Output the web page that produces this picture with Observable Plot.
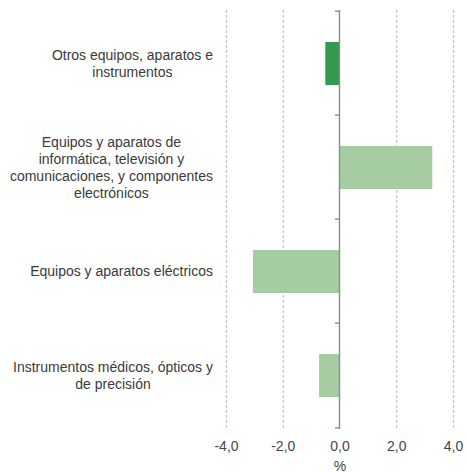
<!DOCTYPE html>
<html>
<head>
<meta charset="utf-8">
<script src="https://cdn.jsdelivr.net/npm/d3@7"></script>
<script src="https://cdn.jsdelivr.net/npm/@observablehq/plot@0.6"></script>
<style>
  html, body { margin: 0; padding: 0; background: #fff; }
</style>
</head>
<body>
<div id="chart"></div>
<script>
const categories = [
  "Otros equipos, aparatos e\ninstrumentos",
  "Equipos y aparatos de\ninformática, televisión y\ncomunicaciones, y componentes\nelectrónicos",
  "Equipos y aparatos eléctricos",
  "Instrumentos médicos, ópticos y\nde precisión"
];
const values = [-0.5, 3.27, -3.05, -0.72];
const xTicks = [-4, -2, 0, 2, 4];
const xLabel = "%";

const data = categories.map((c, i) => ({category: c, value: values[i], index: i}));
const FONT = "'Liberation Sans', Arial, sans-serif";
const FONT_SIZE = 14;
const fmt = d => d.toFixed(1).replace(".", ",");

function categoryAxis(index, scales, values, dims) {
  const y = scales.y, x = scales.x;
  const g = d3.create("svg:g");
  const x0 = x(0);
  const bw = typeof y.bandwidth === "function" ? y.bandwidth() : 0;
  const n = categories.length;
  const step = (dims.height - dims.marginTop - dims.marginBottom) / n;
  g.append("line")
    .attr("x1", x0).attr("x2", x0)
    .attr("y1", dims.marginTop).attr("y2", dims.height - dims.marginBottom)
    .attr("stroke", "#8c8c8c").attr("stroke-width", 1.4);
  for (let i = 0; i <= n; i++) {
    const yy = i < n ? y(categories[i]) + bw / 2 - step / 2 : y(categories[n - 1]) + bw / 2 + step / 2;
    g.append("line")
      .attr("x1", x0 - 4.5).attr("x2", x0)
      .attr("y1", yy).attr("y2", yy)
      .attr("stroke", "#8c8c8c").attr("stroke-width", 1.4);
  }
  const ctx = document.createElement("canvas").getContext("2d");
  ctx.font = `${FONT_SIZE}px ${FONT}`;
  const right = dims.marginLeft - 13;
  const lh = 17;
  categories.forEach(c => {
    const lines = c.split("\n");
    const w = Math.max(...lines.map(l => ctx.measureText(l).width));
    const cx = right - w / 2;
    const cy = y(c) + bw / 2;
    const t = g.append("text")
      .attr("text-anchor", "middle")
      .attr("font-family", FONT)
      .attr("font-size", FONT_SIZE)
      .attr("fill", "#3a3a3a");
    lines.forEach((l, k) => {
      t.append("tspan")
        .attr("x", cx)
        .attr("y", cy + (k - (lines.length - 1) / 2) * lh)
        .attr("dy", "0.35em")
        .text(l);
    });
  });
  return g.node();
}

const chart = Plot.plot({
  width: 467,
  height: 472,
  marginLeft: 226,
  marginRight: 14,
  marginTop: 10,
  marginBottom: 43,
  style: {fontFamily: FONT, fontSize: FONT_SIZE + "px", color: "#444", background: "#fff"},
  x: {
    domain: [-4, 4],
    ticks: xTicks,
    tickFormat: fmt,
    tickSize: 0,
    tickPadding: 12,
    label: xLabel,
    labelAnchor: "center",
    labelArrow: false,
    labelOffset: 41
  },
  y: {domain: categories, paddingInner: 0.59, paddingOuter: 0.295, axis: null},
  marks: [
    Plot.ruleX(xTicks.filter(d => d !== 0), {stroke: "#c4c4c4", strokeDasharray: "3,2", strokeWidth: 1.2}),
    Plot.barX(data, {x: "value", y: "category", fill: d => d.index === 0 ? "#339a50" : "#a6cda1"}),
    categoryAxis
  ]
});
document.getElementById("chart").appendChild(chart);
</script>
</body>
</html>
